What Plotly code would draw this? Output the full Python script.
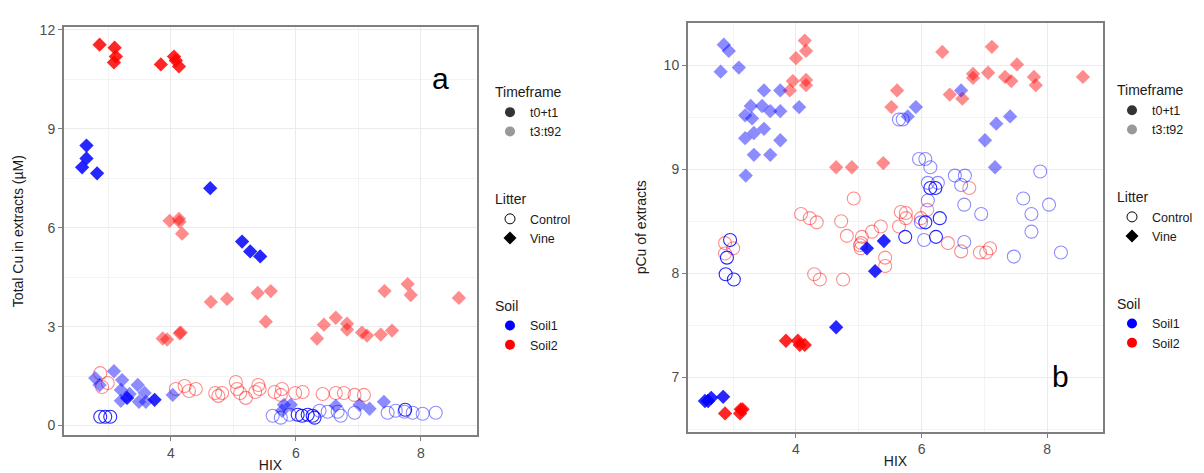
import plotly.graph_objects as go

# ---------------- Panel a : Total Cu in extracts (µM) vs HIX ----------------
a_s2_vine_t01_x = [2.86, 3.10, 3.12, 3.09, 3.84, 4.05, 4.08, 4.13]
a_s2_vine_t01_y = [11.55, 11.46, 11.19, 11.01, 10.95, 11.19, 11.07, 10.89]

a_s2_vine_t392_x = [3.98, 4.13, 4.14, 4.18, 4.64, 4.90, 5.39, 5.60, 5.52, 3.94, 3.87, 4.16, 4.14,
                    6.34, 6.45, 6.64, 6.82, 6.82, 7.06, 7.14, 7.36, 7.54, 7.42, 7.79, 7.84, 8.61]
a_s2_vine_t392_y = [6.21, 6.27, 6.18, 5.82, 3.75, 3.84, 4.02, 4.08, 3.15, 2.61, 2.64, 2.82, 2.80,
                    2.64, 3.06, 3.27, 3.09, 2.91, 2.82, 2.73, 2.76, 2.88, 4.08, 4.29, 3.96, 3.87]

a_s1_vine_t01_x = [2.58, 2.65, 2.65, 2.82, 4.63, 5.14, 5.27, 5.43, 3.30, 3.74]
a_s1_vine_t01_y = [7.83, 8.10, 8.49, 7.65, 7.20, 5.58, 5.28, 5.13, 0.84, 0.78]

a_s1_vine_t392_x = [2.79, 2.86, 3.09, 3.22, 3.20, 3.20, 3.47, 3.49, 3.58, 3.60, 4.03, 3.34,
                    5.81, 5.92, 5.78, 6.64, 7.02, 7.18, 7.41]
a_s1_vine_t392_y = [1.44, 1.23, 1.65, 1.38, 1.08, 0.75, 1.23, 0.72, 0.99, 0.72, 0.93, 0.96,
                    0.63, 0.63, 0.45, 0.60, 0.63, 0.51, 0.72]

a_s1_ctrl_t01_x = [2.87, 2.95, 3.03, 6.03, 6.10, 6.19, 6.27, 6.30, 7.75]
a_s1_ctrl_t01_y = [0.27, 0.27, 0.27, 0.33, 0.30, 0.33, 0.30, 0.24, 0.48]

a_s1_ctrl_t392_x = [5.63, 5.76, 5.90, 6.38, 6.51, 6.67, 6.72, 6.94, 7.47, 7.60, 7.74, 7.87, 8.03, 8.24]
a_s1_ctrl_t392_y = [0.30, 0.24, 0.33, 0.45, 0.42, 0.42, 0.30, 0.39, 0.39, 0.45, 0.42, 0.39, 0.36, 0.39]

a_s2_ctrl_t392_x = [2.87, 2.90, 2.99, 4.08, 4.22, 4.29, 4.40, 4.71, 4.76, 4.82, 5.04, 5.06, 5.20,
                    5.11, 5.40, 5.42, 5.35, 5.66, 5.78, 5.76, 5.99, 6.11, 6.43, 6.64, 6.77, 6.94, 7.09]
a_s2_ctrl_t392_y = [1.59, 1.17, 1.29, 1.11, 1.20, 1.05, 1.11, 0.99, 0.90, 0.99, 1.32, 1.11, 0.84,
                    0.99, 1.23, 1.11, 1.02, 1.02, 1.11, 0.93, 0.99, 1.02, 0.96, 0.99, 0.99, 0.93, 0.93]

# ---------------- Panel b : pCu of extracts vs HIX ----------------
b_s1_vine_t01_x = [2.55, 2.60, 2.65, 2.84, 4.64, 5.13, 5.26, 5.40]
b_s1_vine_t01_y = [6.77, 6.77, 6.80, 6.81, 7.48, 8.24, 8.02, 8.31]

b_s2_vine_t01_x = [3.84, 4.03, 4.06, 4.14, 2.87, 3.11, 3.12, 3.15]
b_s2_vine_t01_y = [7.35, 7.35, 7.31, 7.31, 6.65, 6.65, 6.69, 6.69]

b_s1_vine_t392_x = [2.85, 2.93, 2.80, 3.09, 3.19, 3.28, 3.30, 3.19, 3.33, 3.33, 3.20, 3.49, 3.46,
                    3.49, 3.59, 3.59, 3.75, 3.75, 3.75, 4.05, 5.78, 5.91, 6.63, 7.01, 7.19, 7.41, 7.17]
b_s1_vine_t392_y = [10.20, 10.14, 9.94, 9.98, 9.52, 9.61, 9.49, 9.30, 9.35, 9.14, 8.94, 9.76, 9.61,
                    9.39, 9.56, 9.14, 9.76, 9.56, 9.28, 9.60, 9.51, 9.60, 9.76, 9.28, 9.44, 9.51, 9.02]

b_s2_vine_t392_x = [4.14, 4.16, 4.00, 3.95, 3.90, 4.16, 4.16, 4.64, 4.89, 5.39, 5.52, 5.61, 6.33,
                    6.45, 6.65, 6.82, 6.82, 7.06, 7.12, 7.33, 7.43, 7.52, 7.79, 7.82, 8.57]
b_s2_vine_t392_y = [10.24, 10.14, 10.07, 9.85, 9.76, 9.86, 9.81, 9.02, 9.02, 9.06, 9.60, 9.76, 10.13,
                    9.72, 9.68, 9.92, 9.88, 9.93, 10.18, 9.89, 9.85, 10.01, 9.89, 9.81, 9.89]

b_s1_ctrl_t01_x = [2.95, 2.90, 2.88, 3.01, 5.74, 6.23, 6.29, 6.06, 6.14, 6.22]
b_s1_ctrl_t01_y = [8.32, 8.15, 7.99, 7.94, 8.35, 8.35, 8.53, 8.49, 8.82, 8.82]

b_s1_ctrl_t392_x = [5.64, 5.70, 5.96, 6.06, 6.14, 6.10, 6.26, 6.10, 6.53, 6.69, 6.63, 6.68, 6.95,
                    7.62, 7.75, 7.75, 7.89, 8.03, 6.04, 6.68, 7.47, 8.22, 5.99]
b_s1_ctrl_t392_y = [9.48, 9.48, 9.10, 9.10, 9.02, 8.87, 8.87, 8.70, 8.94, 8.94, 8.85, 8.66, 8.57,
                    8.72, 8.57, 8.40, 8.98, 8.66, 8.32, 8.30, 8.16, 8.20, 8.49]

b_s2_ctrl_t392_x = [4.92, 4.08, 4.22, 4.33, 4.72, 4.81, 5.21, 5.35, 5.64, 5.75, 5.75, 5.99, 6.09,
                    6.76, 6.42, 6.63, 5.05, 5.04, 2.87, 3.00, 2.87, 4.29, 4.38, 4.75, 5.02, 5.03,
                    5.42, 5.42, 6.93, 7.03, 7.09, 5.67]
b_s2_ctrl_t392_y = [8.72, 8.57, 8.53, 8.49, 8.50, 8.36, 8.40, 8.45, 8.45, 8.58, 8.53, 8.53, 8.61,
                    8.82, 8.29, 8.21, 8.35, 8.29, 8.29, 8.24, 8.19, 7.99, 7.94, 7.94, 8.27, 8.24,
                    8.15, 8.07, 8.20, 8.20, 8.24, 8.59]

# legend labels
timeframe_labels = ["t0+t1", "t3:t92"]
litter_labels = ["Control", "Vine"]
soil_labels = ["Soil1", "Soil2"]

BLUE = (0, 0, 255)
RED = (255, 0, 0)
ALPHA = {"t01": 0.85, "t392": 0.45}


def rgba(c, a):
    return f"rgba({c[0]},{c[1]},{c[2]},{a})"


fig = go.Figure()


def add_pts(x, y, col, tf, litter, xa, ya):
    a = ALPHA[tf]
    if litter == "vine":
        marker = dict(symbol="diamond", size=11, color=rgba(col, a), line=dict(width=0))
    else:
        marker = dict(symbol="circle-open", size=13, color=rgba(col, a), line=dict(width=1.1, color=rgba(col, a)))
    fig.add_trace(go.Scatter(x=x, y=y, mode="markers", marker=marker, showlegend=False,
                             xaxis=xa, yaxis=ya, hoverinfo="x+y"))


# Panel a (draw t3:t92 first, then t0+t1)
add_pts(a_s2_ctrl_t392_x, a_s2_ctrl_t392_y, RED, "t392", "ctrl", "x", "y")
add_pts(a_s1_ctrl_t392_x, a_s1_ctrl_t392_y, BLUE, "t392", "ctrl", "x", "y")
add_pts(a_s1_ctrl_t01_x, a_s1_ctrl_t01_y, BLUE, "t01", "ctrl", "x", "y")
add_pts(a_s2_vine_t392_x, a_s2_vine_t392_y, RED, "t392", "vine", "x", "y")
add_pts(a_s1_vine_t392_x, a_s1_vine_t392_y, BLUE, "t392", "vine", "x", "y")
add_pts(a_s2_vine_t01_x, a_s2_vine_t01_y, RED, "t01", "vine", "x", "y")
add_pts(a_s1_vine_t01_x, a_s1_vine_t01_y, BLUE, "t01", "vine", "x", "y")

# Panel b
add_pts(b_s2_ctrl_t392_x, b_s2_ctrl_t392_y, RED, "t392", "ctrl", "x2", "y2")
add_pts(b_s1_ctrl_t392_x, b_s1_ctrl_t392_y, BLUE, "t392", "ctrl", "x2", "y2")
add_pts(b_s1_ctrl_t01_x, b_s1_ctrl_t01_y, BLUE, "t01", "ctrl", "x2", "y2")
add_pts(b_s2_vine_t392_x, b_s2_vine_t392_y, RED, "t392", "vine", "x2", "y2")
add_pts(b_s1_vine_t392_x, b_s1_vine_t392_y, BLUE, "t392", "vine", "x2", "y2")
add_pts(b_s2_vine_t01_x, b_s2_vine_t01_y, RED, "t01", "vine", "x2", "y2")
add_pts(b_s1_vine_t01_x, b_s1_vine_t01_y, BLUE, "t01", "vine", "x2", "y2")

# Legend entries (one legend per panel)
for leg, xa, ya in [("legend", "x", "y"), ("legend2", "x2", "y2")]:
    entries = [
        ("Timeframe", timeframe_labels[0], dict(symbol="circle", size=10, color="rgba(0,0,0,0.8)")),
        ("Timeframe", timeframe_labels[1], dict(symbol="circle", size=10, color="rgba(0,0,0,0.4)")),
        ("Litter", litter_labels[0], dict(symbol="circle-open", size=10, color="black", line=dict(width=1, color="black"))),
        ("Litter", litter_labels[1], dict(symbol="diamond", size=10, color="black")),
        ("Soil", soil_labels[0], dict(symbol="circle", size=10, color="rgb(0,0,255)")),
        ("Soil", soil_labels[1], dict(symbol="circle", size=10, color="rgb(255,0,0)")),
    ]
    for grp, name, mk in entries:
        fig.add_trace(go.Scatter(x=[None], y=[None], mode="markers", name=name, marker=mk,
                                 legendgroup=grp, legendgrouptitle=dict(text=grp, font=dict(size=14, color="#1a1a1a")),
                                 legend=leg, xaxis=xa, yaxis=ya, showlegend=True))

W, H = 1204, 473
GRID = "#ebebeb"
AX = dict(showline=True, linecolor="#7f7f7f", linewidth=2, mirror=True, ticks="outside",
          ticklen=4, tickcolor="#7f7f7f", tickfont=dict(size=14, color="#4d4d4d"),
          showgrid=True, gridcolor=GRID, gridwidth=1, zeroline=False,
          minor=dict(showgrid=True, gridcolor="#f3f3f3", gridwidth=0.7))

fig.update_layout(
    width=W, height=H,
    margin=dict(l=0, r=0, t=0, b=0),
    paper_bgcolor="white", plot_bgcolor="white",
    font=dict(family="Liberation Sans, Arial, sans-serif", color="#1a1a1a"),
    xaxis=dict(AX, domain=[56 / W, 469 / W], range=[2.29, 8.9], tickvals=[4, 6, 8],
               minor=dict(AX["minor"], tickvals=[3, 5, 7], ticks=""),
               title=dict(text="HIX", font=dict(size=14, color="#1a1a1a"), standoff=0), anchor="y"),
    yaxis=dict(AX, domain=[1 - 427 / H, 1 - 14 / H], range=[-0.3, 12.09], tickvals=[0, 3, 6, 9, 12],
               minor=dict(AX["minor"], tickvals=[1.5, 4.5, 7.5, 10.5], ticks=""),
               title=dict(text="Total Cu in extracts (µM)", font=dict(size=14, color="#1a1a1a"), standoff=13),
               anchor="x"),
    xaxis2=dict(AX, domain=[680 / W, 1095 / W], range=[2.28, 8.89], tickvals=[4, 6, 8],
                minor=dict(AX["minor"], tickvals=[3, 5, 7], ticks=""),
                title=dict(text="HIX", font=dict(size=14, color="#1a1a1a"), standoff=0), anchor="y2"),
    yaxis2=dict(AX, domain=[1 - 423 / H, 1 - 10 / H], range=[6.476, 10.41], tickvals=[7, 8, 9, 10],
                minor=dict(AX["minor"], tickvals=[6.5, 7.5, 8.5, 9.5], ticks=""),
                title=dict(text="pCu of extracts", font=dict(size=14, color="#1a1a1a"), standoff=14),
                anchor="x2"),
    legend=dict(x=482 / W, y=1 - 64 / H, xanchor="left", yanchor="top", bgcolor="rgba(0,0,0,0)",
                font=dict(size=12.5, color="#1a1a1a"), tracegroupgap=47, itemwidth=30),
    legend2=dict(x=1104 / W, y=1 - 62 / H, xanchor="left", yanchor="top", bgcolor="rgba(0,0,0,0)",
                 font=dict(size=12.5, color="#1a1a1a"), tracegroupgap=47, itemwidth=30),
    annotations=[
        dict(text="a", x=432 / W, y=1 - 47 / H, xref="paper", yref="paper", showarrow=False,
             font=dict(size=30, color="black", family="Liberation Sans, Arial, sans-serif")),
        dict(text="b", x=1063 / W, y=1 - 386 / H, xref="paper", yref="paper", showarrow=False,
             font=dict(size=30, color="black", family="Liberation Sans, Arial, sans-serif")),
    ],
)

fig.write_html("out.html")
